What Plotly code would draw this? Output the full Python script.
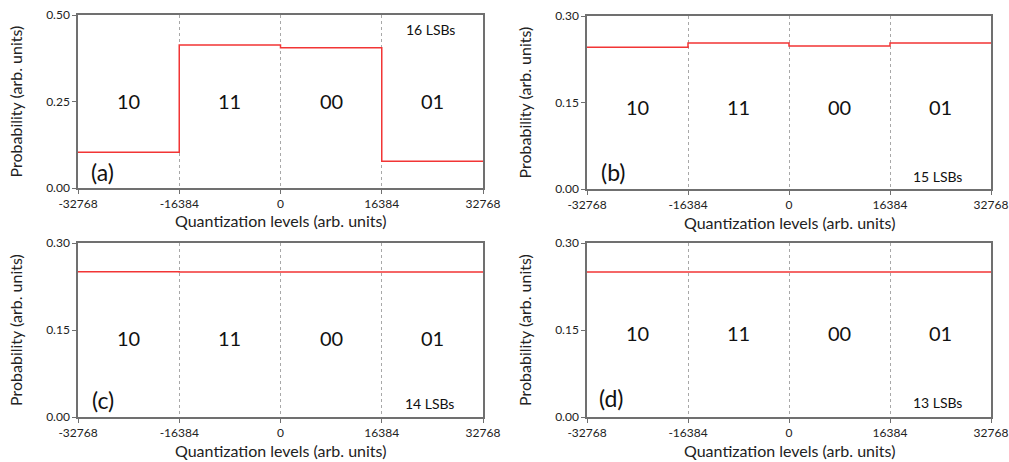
import plotly.graph_objects as go

W, H = 1009, 462

edges = [-32768, -16384, 0, 16384, 32768]
tick_text = ["-32768", "-16384", "0", "16384", "32768"]
codes = ["10", "11", "00", "01"]
code_x = [-24576, -8192, 8192, 24576]

prob_a = [0.103, 0.413, 0.405, 0.077]
prob_b = [0.246, 0.253, 0.248, 0.253]
prob_c = [0.2505, 0.250, 0.250, 0.250]
prob_d = [0.250, 0.250, 0.250, 0.250]

panels = ["(a)", "(b)", "(c)", "(d)"]
lsb_labels = ["16 LSBs", "15 LSBs", "14 LSBs", "13 LSBs"]
y_max = [0.50, 0.30, 0.30, 0.30]
y_ticks = [[0, 0.25, 0.50], [0, 0.15, 0.30], [0, 0.15, 0.30], [0, 0.15, 0.30]]
probs = [prob_a, prob_b, prob_c, prob_d]

FONT = "Lato, 'Open Sans', sans-serif"

# pixel boxes of each plot area (left, right, top, bottom)
boxes = [(78, 483, 15, 188), (587, 991, 16, 189), (78, 483, 243, 417), (587, 991, 243, 417)]
code_y_frac = [0.50, 0.473, 0.453, 0.483]
panel_pos = [(102, 172), (613, 172), (103, 400), (611, 398)]
lsb_pos = [(430, 29), (937, 176), (429, 403), (937, 402)]

def px(x):
    return x / W

def py(y):
    return 1 - y / H

fig = go.Figure()
annotations = []

def ann(x, y, text, size, angle=0, color="#111"):
    annotations.append(dict(x=px(x), y=py(y), xref="paper", yref="paper",
                            xanchor="center", yanchor="middle", text=text,
                            showarrow=False, textangle=angle,
                            font=dict(family=FONT, size=size, color=color)))

for i in range(4):
    l, r, t, b = boxes[i]
    xa = "xaxis" if i == 0 else f"xaxis{i+1}"
    ya = "yaxis" if i == 0 else f"yaxis{i+1}"
    xr = "x" if i == 0 else f"x{i+1}"
    yr = "y" if i == 0 else f"y{i+1}"
    fig.add_trace(go.Scatter(
        x=edges, y=probs[i] + [probs[i][-1]], mode="lines",
        line=dict(shape="hv", color="#f23535", width=1.5),
        xaxis=xr, yaxis=yr, showlegend=False, hoverinfo="skip"))
    fig.layout[xa] = dict(
        domain=[px(l), px(r)], range=[-32768, 32768], anchor=yr, automargin=False,
        ticklabeloverflow="allow",
        tickvals=edges, ticktext=tick_text, ticks="outside", ticklen=4,
        tickcolor="#707070", showline=True, mirror=True, linecolor="#707070",
        linewidth=1.5, showgrid=True, gridcolor="#a8a8a8", griddash="dot",
        gridwidth=1, zeroline=False, tickfont=dict(family=FONT, size=12, color="#222"))
    fig.layout[ya] = dict(
        domain=[py(b), py(t)], range=[0, y_max[i]], anchor=xr, automargin=False,
        ticklabeloverflow="allow",
        tickvals=y_ticks[i], tickformat=".2f", ticks="outside", ticklen=4,
        tickcolor="#707070", showline=True, mirror=True, linecolor="#707070",
        linewidth=1.5, showgrid=False, zeroline=False,
        tickfont=dict(family=FONT, size=12, color="#222"))
    for cx, c in zip(code_x, codes):
        annotations.append(dict(x=cx, y=y_max[i] * code_y_frac[i], xref=xr, yref=yr,
                                xanchor="center", yanchor="middle",
                                text=c, showarrow=False,
                                font=dict(family=FONT, size=20, color="#111")))
    ann(panel_pos[i][0], panel_pos[i][1], panels[i], 23)
    ann(lsb_pos[i][0], lsb_pos[i][1], lsb_labels[i], 14)
    ann(l - 63, (t + b) / 2, "Probability (arb. units)", 16, angle=-90, color="#222")
    ann((l + r) / 2, b + 33, "Quantization levels (arb. units)", 16, color="#222")

fig.update_layout(width=W, height=H, margin=dict(l=0, r=0, t=0, b=0),
                  paper_bgcolor="white", plot_bgcolor="white",
                  annotations=annotations, font=dict(family=FONT))
fig.write_html("out.html")
